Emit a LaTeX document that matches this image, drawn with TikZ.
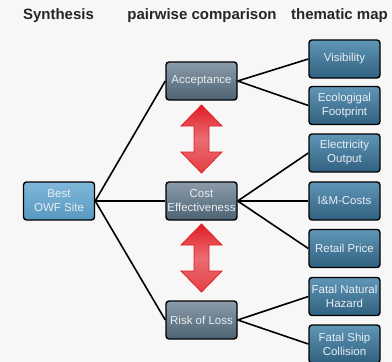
\documentclass[tikz,border=0pt]{standalone}
\usepackage{fontspec}
\setmainfont{Liberation Sans}
\usepackage{tikz}
\definecolor{fondo}{RGB}{247,247,247}
\definecolor{grisarriba}{RGB}{140,156,170}
\definecolor{grisabajo}{RGB}{76,98,114}
\definecolor{azularriba}{RGB}{96,150,182}
\definecolor{azulabajo}{RGB}{48,96,128}
\definecolor{celestearriba}{RGB}{128,184,218}
\definecolor{celesteabajo}{RGB}{88,152,192}
\definecolor{textito}{RGB}{232,238,242}
\definecolor{rojito}{RGB}{225,30,35}
\definecolor{rosita}{RGB}{240,160,165}
\newcommand{\boxwidth}{71pt}
\newcommand{\boxheight}{38pt}
\tikzset{>=stealth,
  box/.style={draw=black, line width=1.4pt, rounded corners=3pt, minimum width=\boxwidth, minimum height=\boxheight, inner sep=1pt, align=center, text=textito, font=\fontsize{11.5}{14}\selectfont},
  synbox/.style={box, top color=celestearriba, bottom color=celesteabajo},
  critbox/.style={box, top color=grisarriba, bottom color=grisabajo},
  mapbox/.style={box, top color=azularriba, bottom color=azulabajo},
  hdr/.style={font=\fontsize{15}{18}\selectfont\bfseries, text=black!85},
  link/.style={line width=1.6pt, black},
  bigarrow/.style={draw=rojito, line width=0.8pt, top color=rojito, bottom color=rojito!75!rosita, middle color=rojito!40!rosita}}
% doble flecha vertical: x, arriba, abajo
\newcommand{\dobleflecha}[3]{%
  \path[bigarrow] (#1,#2) -- ++(20.5,21) -- ++(-13,0) -- (#1+7.5,#3-21) -- ++(13,0) -- (#1,#3) -- ++(-20.5,-21) -- ++(13,0) -- (#1-7.5,#2+21) -- ++(-13,0) -- cycle;}

\begin{document}
\begin{tikzpicture}[x=1pt,y=-1pt]
		 \useasboundingbox[fill=fondo] (0,0) rectangle (392,362);
		 \node[hdr] (titsyn) at (58.5,16) {Synthesis};
		 \node[hdr] (titpair) at (202,16) {pairwise comparison};
		 \node[hdr] (titmap) at (339.5,16) {thematic map};

		 \node[synbox] (best) at (59,201) {Best\\OWF Site};

		 \node[critbox] (accept) at (201.5,81) {Acceptance};
		 \node[critbox] (cost) at (201.5,201) {Cost\\Effectiveness};
		 \node[critbox] (risk) at (201.5,320) {Risk of Loss};

		 \node[mapbox] (visib) at (344.5,59) {Visibility};
		 \node[mapbox] (ecol) at (344.5,105.5) {Ecologigal\\Footprint};
		 \node[mapbox] (elec) at (344.5,153) {Electricity\\Output};
		 \node[mapbox] (imcost) at (344.5,201) {I\&M-Costs};
		 \node[mapbox] (retail) at (344.5,248.5) {Retail Price};
		 \node[mapbox] (natural) at (344.5,296.5) {Fatal Natural\\Hazard};
		 \node[mapbox] (ship) at (344.5,344) {Fatal Ship\\Collision};

		 \draw[link] (best.east) -- (accept.west);
		 \draw[link] (best.east) -- (cost.west);
		 \draw[link] (best.east) -- (risk.west);
		 \draw[link] (accept.east) -- (visib.west);
		 \draw[link] (accept.east) -- (ecol.west);
		 \draw[link] (cost.east) -- (elec.west);
		 \draw[link] (cost.east) -- (imcost.west);
		 \draw[link] (cost.east) -- (retail.west);
		 \draw[link] (risk.east) -- (natural.west);
		 \draw[link] (risk.east) -- (ship.west);

		 \dobleflecha{201.5}{105}{173}
		 \dobleflecha{201.5}{224}{292}
		\end{tikzpicture}
\end{document}
